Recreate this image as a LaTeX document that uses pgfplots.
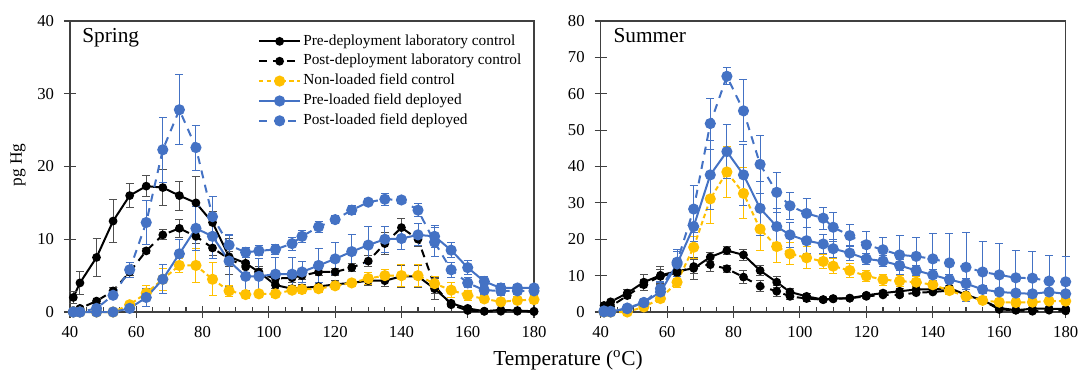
\documentclass[border=0pt]{standalone}
\usepackage{pgfplots}
\pgfplotsset{compat=1.18}
\usepackage{pgfplotstable}
\usepackage{fontspec}
\setmainfont{Liberation Serif}
\definecolor{cy}{HTML}{FFC000}
\definecolor{cb}{HTML}{4472C4}
\definecolor{cg}{HTML}{505050}

\pgfplotstableread{
T a ea b eb c ec d ed f ef
41 2.0 0.8 0.2 0.2 0 0 0 0 0 0
43 4.0 1.6 0.5 0.3 0 0 0 0 0 0
48 7.5 2.6 1.5 0.4 0 0 0 0 0.5 0.3
53 12.5 3.0 2.9 0.5 0 0 0 0 2.3 0.5
58 16.0 1.7 5.5 0.5 1.0 0.5 0.5 0.3 5.8 1.0
63 17.3 1.4 8.4 0.3 2.6 1.0 2.0 1.2 12.3 3.0
68 17.1 2.5 10.6 0.7 4.5 1.5 4.5 2.0 22.3 4.5
73 16.0 2.0 11.5 1.2 6.4 1.0 8.0 1.9 27.8 4.8
78 15.0 3.6 10.4 1.0 6.4 2.3 11.5 3.0 22.6 3.1
83 12.3 1.5 8.8 1.0 4.5 2.3 10.4 3.0 13.1 2.8
88 7.6 2.5 7.3 1.0 2.9 0.8 7.0 3.5 9.2 1.5
93 6.7 1.3 6.2 0.8 2.4 0.5 4.9 2.0 8.2 0.7
97 5.5 0.8 5.3 0.7 2.5 0.5 4.9 2.5 8.4 0.7
102 3.7 0.5 4.6 0.7 2.5 0.5 5.2 2.3 8.6 0.7
107 3.2 0.5 4.7 0.7 3.0 0.5 5.2 2.3 9.4 0.9
110 3.3 0.5 5.0 0.5 3.1 0.5 5.5 1.5 10.4 0.8
115 3.5 0.5 5.5 0.5 3.2 0.5 6.4 2.3 11.7 0.8
120 3.8 0.5 5.5 0.5 3.6 0.5 7.3 2.2 12.7 0.6
125 4.0 0.5 6.1 0.5 4.0 0.5 8.3 2.3 14.0 0.6
130 4.3 0.6 7.0 0.8 4.6 0.8 9.2 2.5 15.1 0.5
135 4.3 0.8 9.4 1.5 5.0 0.8 10.0 1.8 15.5 0.8
140 4.9 1.5 11.6 1.2 5.0 1.5 10.1 1.5 15.4 0.5
145 4.9 1.5 10.0 1.0 5.0 1.5 10.6 1.5 14.0 0.9
150 3.2 1.5 3.6 1.0 3.9 1.0 10.4 1.5 9.6 2.0
155 1.2 0.3 1.0 0.3 3.0 1.0 8.5 1.0 5.8 1.0
160 0.5 0.2 0.2 0.1 2.3 0.7 6.1 1.0 4.0 0.7
165 0.1 0.1 0.1 0.1 1.8 0.5 4.2 0.7 3.0 0.6
170 0.3 0.1 0.1 0.1 1.4 0.5 3.3 0.6 2.9 0.6
175 0.2 0.1 0.1 0.1 1.6 0.5 3.3 0.5 2.9 0.5
180 0.1 0.1 0.05 0.05 1.7 0.5 3.3 0.5 2.9 0.5
}\spring

\pgfplotstableread{
T a ea b eb c ec d ed f ef
41 1.8 0.5 0.8 0.3 0 0 0.3 0.2 0 0
43 2.8 0.7 1.5 0.5 0 0 0.2 0.2 0 0
48 5.2 1.0 4.5 0.8 0 0 0.9 0.5 1.1 0.5
53 8.2 2.2 7.5 1.5 1.4 0.5 2.6 0.6 2.6 0.8
58 10.1 2.5 9.8 2.0 3.7 1.0 5.5 2.5 6.4 2.0
63 11.2 1.5 10.8 1.0 8.2 1.5 13.2 3.5 13.7 3.5
68 12.0 3.0 12.5 2.0 17.8 3.0 23.5 4.0 28.3 6.5
73 15.1 1.2 13.0 2.0 31.1 6.8 37.7 9.4 51.8 7.0
78 16.9 1.0 11.9 1.0 38.5 7.0 44.1 7.5 64.8 2.3
83 15.7 1.5 9.6 1.8 32.6 7.0 37.7 8.4 55.3 8.5
88 11.4 1.5 7.1 1.5 22.8 6.0 28.5 7.5 40.6 8.0
93 8.2 1.5 5.7 1.5 18.0 4.5 23.5 5.0 32.9 5.5
97 5.5 1.0 4.3 1.0 16.0 3.0 21.2 3.5 29.2 3.7
102 4.3 0.7 3.7 0.7 14.9 3.0 19.6 3.5 27.1 4.0
107 3.4 0.5 3.4 0.5 13.9 2.0 18.7 2.5 25.8 3.0
110 3.7 0.5 3.6 0.5 12.6 2.0 17.4 2.5 23.3 4.0
115 3.8 0.5 3.8 0.5 11.4 2.0 16.2 2.0 21.0 3.0
120 4.6 0.5 4.3 0.5 9.9 1.5 14.6 1.5 18.5 3.5
125 5.2 0.7 4.7 0.5 8.9 1.5 14.0 1.5 17.1 3.3
130 5.7 0.7 4.7 0.5 8.5 1.5 12.8 1.5 15.7 5.3
135 6.2 0.7 5.3 0.5 8.2 1.5 11.4 1.5 15.3 5.3
140 6.2 0.7 5.5 0.5 7.5 1.0 10.2 1.5 14.6 7.0
145 6.6 0.5 5.9 0.5 5.9 1.0 8.9 1.5 13.5 8.0
150 4.7 0.5 4.7 0.5 4.3 1.0 7.8 1.5 12.3 9.5
155 3.2 0.5 3.2 0.5 3.2 1.0 6.2 1.0 11.0 8.5
160 1.1 0.3 0.7 0.3 2.7 1.0 5.5 1.0 10.2 8.5
165 0.5 0.3 0.5 0.3 2.6 1.0 5.2 1.0 9.4 7.5
170 0.9 0.3 0.2 0.2 2.7 1.0 5.0 1.0 9.3 7.3
175 0.9 0.3 0.5 0.3 3.0 1.0 5.5 1.0 8.5 7.0
180 0.8 0.3 0.3 0.2 3.0 1.0 5.0 1.0 8.3 7.0
}\summer

\pgfplotsset{
  panel/.style={
    scale only axis, width=348pt, height=218.25pt,
    xmin=40, xmax=180, ymin=0,
    xtick={40,60,...,180}, minor x tick num=3,
    tick align=center, major tick length=9pt, minor tick length=3.75pt,
    every minor tick/.append style={yshift=1.875pt},
    xtick pos=left, ytick pos=left,
    axis line style={draw=black!75, line width=0.9pt},
    tick style={draw=black!75, line width=0.8pt},
    clip=false,
    tick label style={font=\fontsize{12.5}{14}\selectfont},
    /pgf/number format/assume math mode=true,
    xticklabel style={yshift=-3pt},
    yticklabel style={xshift=-4pt},
    legend cell align=left,
    legend image code/.code={\draw[mark repeat=2,mark phase=2,##1] plot coordinates {(0pt,0pt) (15.5pt,0pt) (31pt,0pt)};},
  },
  s1/.style={black, line width=1.5pt, mark=*, mark size=2.5pt, mark options={solid}},
  s2/.style={black, line width=1.5pt, dash pattern=on 6pt off 4.5pt, mark=*, mark size=2.5pt, mark options={solid}},
  s3/.style={cy, line width=1.5pt, dash pattern=on 3.4pt off 2.3pt, mark=*, mark size=3.4pt, mark options={solid}},
  s4/.style={cb, line width=1.5pt, mark=*, mark size=3.4pt, mark options={solid}},
  s5/.style={cb, line width=1.5pt, dash pattern=on 6pt off 5pt, mark=*, mark size=3.4pt, mark options={solid}},
  ebk/.style={error bars/.cd, y dir=both, y explicit,
    error bar style={cg, line width=0.75pt, solid},
    error mark options={rotate=90, mark size=3pt, cg, line width=0.75pt, solid}},
  eby/.style={error bars/.cd, y dir=both, y explicit,
    error bar style={cy, line width=0.75pt, solid},
    error mark options={rotate=90, mark size=3pt, cy, line width=0.75pt, solid}},
  ebb/.style={error bars/.cd, y dir=both, y explicit,
    error bar style={cb, line width=0.75pt, solid},
    error mark options={rotate=90, mark size=3pt, cb, line width=0.75pt, solid}},
}

\begin{document}
\begin{tikzpicture}
\useasboundingbox (0,0) rectangle (808.5pt,281.25pt);
\begin{axis}[panel, at={(52.5pt,47.25pt)}, anchor=south west,
  ymax=40, ytick={0,10,...,40},
  ylabel={pg Hg}, ylabel style={at={(axis description cs:-0.112,0.505)}, anchor=center, font=\fontsize{13}{15}\selectfont},
  legend style={draw=none, fill=none, at={(rel axis cs:0.4045,0.955)}, anchor=north west,
    font=\fontsize{11.5}{13}\selectfont, inner sep=0pt, row sep=4.4pt,
    nodes={inner xsep=1.5pt, inner ysep=0pt, text height=8pt, text depth=2.5pt}},
]
\addplot[s1, ebk] table[x=T, y=a, y error=ea] {\spring};
\addlegendentry{Pre-deployment laboratory control}
\addplot[s2, ebk] table[x=T, y=b, y error=eb] {\spring};
\addlegendentry{Post-deployment laboratory control}
\addplot[s3, eby] table[x=T, y=c, y error=ec] {\spring};
\addlegendentry{Non-loaded field control}
\addplot[s4, ebb] table[x=T, y=d, y error=ed] {\spring};
\addlegendentry{Pre-loaded field deployed}
\addplot[s5, ebb] table[x=T, y=f, y error=ef] {\spring};
\addlegendentry{Post-loaded field deployed}
\node[anchor=north west, inner sep=0pt, font=\fontsize{16}{18}\selectfont] at ([xshift=9pt,yshift=-5.5pt]rel axis cs:0,1) {Spring};
\end{axis}
\begin{axis}[panel, at={(450.5pt,47.25pt)}, anchor=south west, width=348.75pt,
  ymax=80, ytick={0,10,...,80},
]
\addplot[s1, ebk] table[x=T, y=a, y error=ea] {\summer};
\addplot[s2, ebk] table[x=T, y=b, y error=eb] {\summer};
\addplot[s3, eby] table[x=T, y=c, y error=ec] {\summer};
\addplot[s4, ebb] table[x=T, y=d, y error=ed] {\summer};
\addplot[s5, ebb] table[x=T, y=f, y error=ef] {\summer};
\node[anchor=north west, inner sep=0pt, font=\fontsize{16}{18}\selectfont] at ([xshift=9.5pt,yshift=-5.5pt]rel axis cs:0,1) {Summer};
\end{axis}
\node[font=\fontsize{16}{18}\selectfont] at (426pt,11pt) {Temperature (\textsuperscript{o}C)};
\end{tikzpicture}
\end{document}
